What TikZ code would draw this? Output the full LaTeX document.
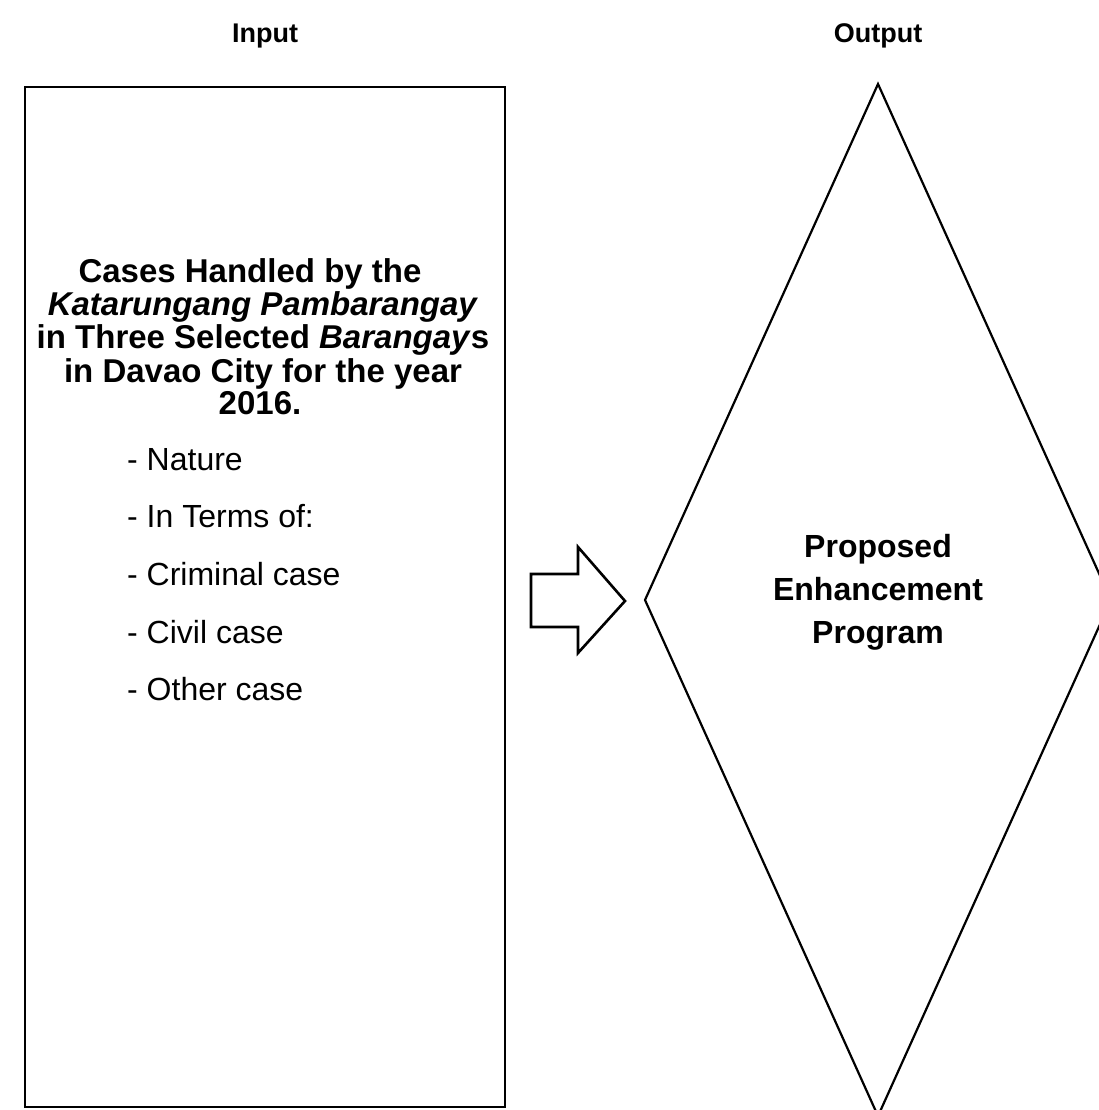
\documentclass[tikz,border=0pt]{standalone}
\usepackage{fontspec}
\setmainfont{Liberation Sans}
\begin{document}
\begin{tikzpicture}[x=1pt,y=-1pt,
  shapeline/.style={draw=black,line width=2.2pt,line join=miter},
  boxline/.style={draw=black,line width=2.8pt},
  arrowline/.style={draw=black,line width=2.6pt,line join=miter},
  head/.style={font=\fontsize{27}{30}\selectfont\bfseries,anchor=base,inner sep=0pt},
  titleline/.style={font=\fontsize{33}{33}\selectfont\bfseries,anchor=base,inner sep=0pt},
  itemline/.style={font=\fontsize{32}{32}\selectfont,anchor=base west,inner sep=0pt},
  outline/.style={font=\fontsize{32}{32}\selectfont\bfseries,anchor=base,inner sep=0pt}]
\useasboundingbox (0,0) rectangle (1099,1110);
\clip (0,0) rectangle (1099,1110);
% headers
\node[head] (hin) at (265,43) {Input};
\node[head] (hout) at (878,43) {Output};
% input box
\draw[boxline] (25,87) rectangle (505,1107);
\node[titleline] (t1) at (250,282) {Cases Handled by the};
\node[titleline] (t2) at (263,315) {\textit{Katarungang Pambarangay}};
\node[titleline] (t3) at (263,348) {in Three Selected \textit{Barangay}s};
\node[titleline] (t4) at (263,382) {in Davao City for the year};
\node[titleline] (t5) at (260,414) {2016.};
\node[itemline] (i1) at (127,470) {- Nature};
\node[itemline] (i2) at (127,527) {- In Terms of:};
\node[itemline] (i3) at (127,585) {- Criminal case};
\node[itemline] (i4) at (127,643) {- Civil case};
\node[itemline] (i5) at (127,700) {- Other case};
% arrow
\draw[arrowline] (531,574) -- (578,574) -- (578,547) -- (625,601) -- (578,653) -- (578,627) -- (531,627) -- cycle;
% diamond
\draw[shapeline] (878,84) -- (1111,600) -- (878,1116) -- (645,600) -- cycle;
\node[outline] (o1) at (878,557) {Proposed};
\node[outline] (o2) at (878,600) {Enhancement};
\node[outline] (o3) at (878,643) {Program};
\end{tikzpicture}
\end{document}
